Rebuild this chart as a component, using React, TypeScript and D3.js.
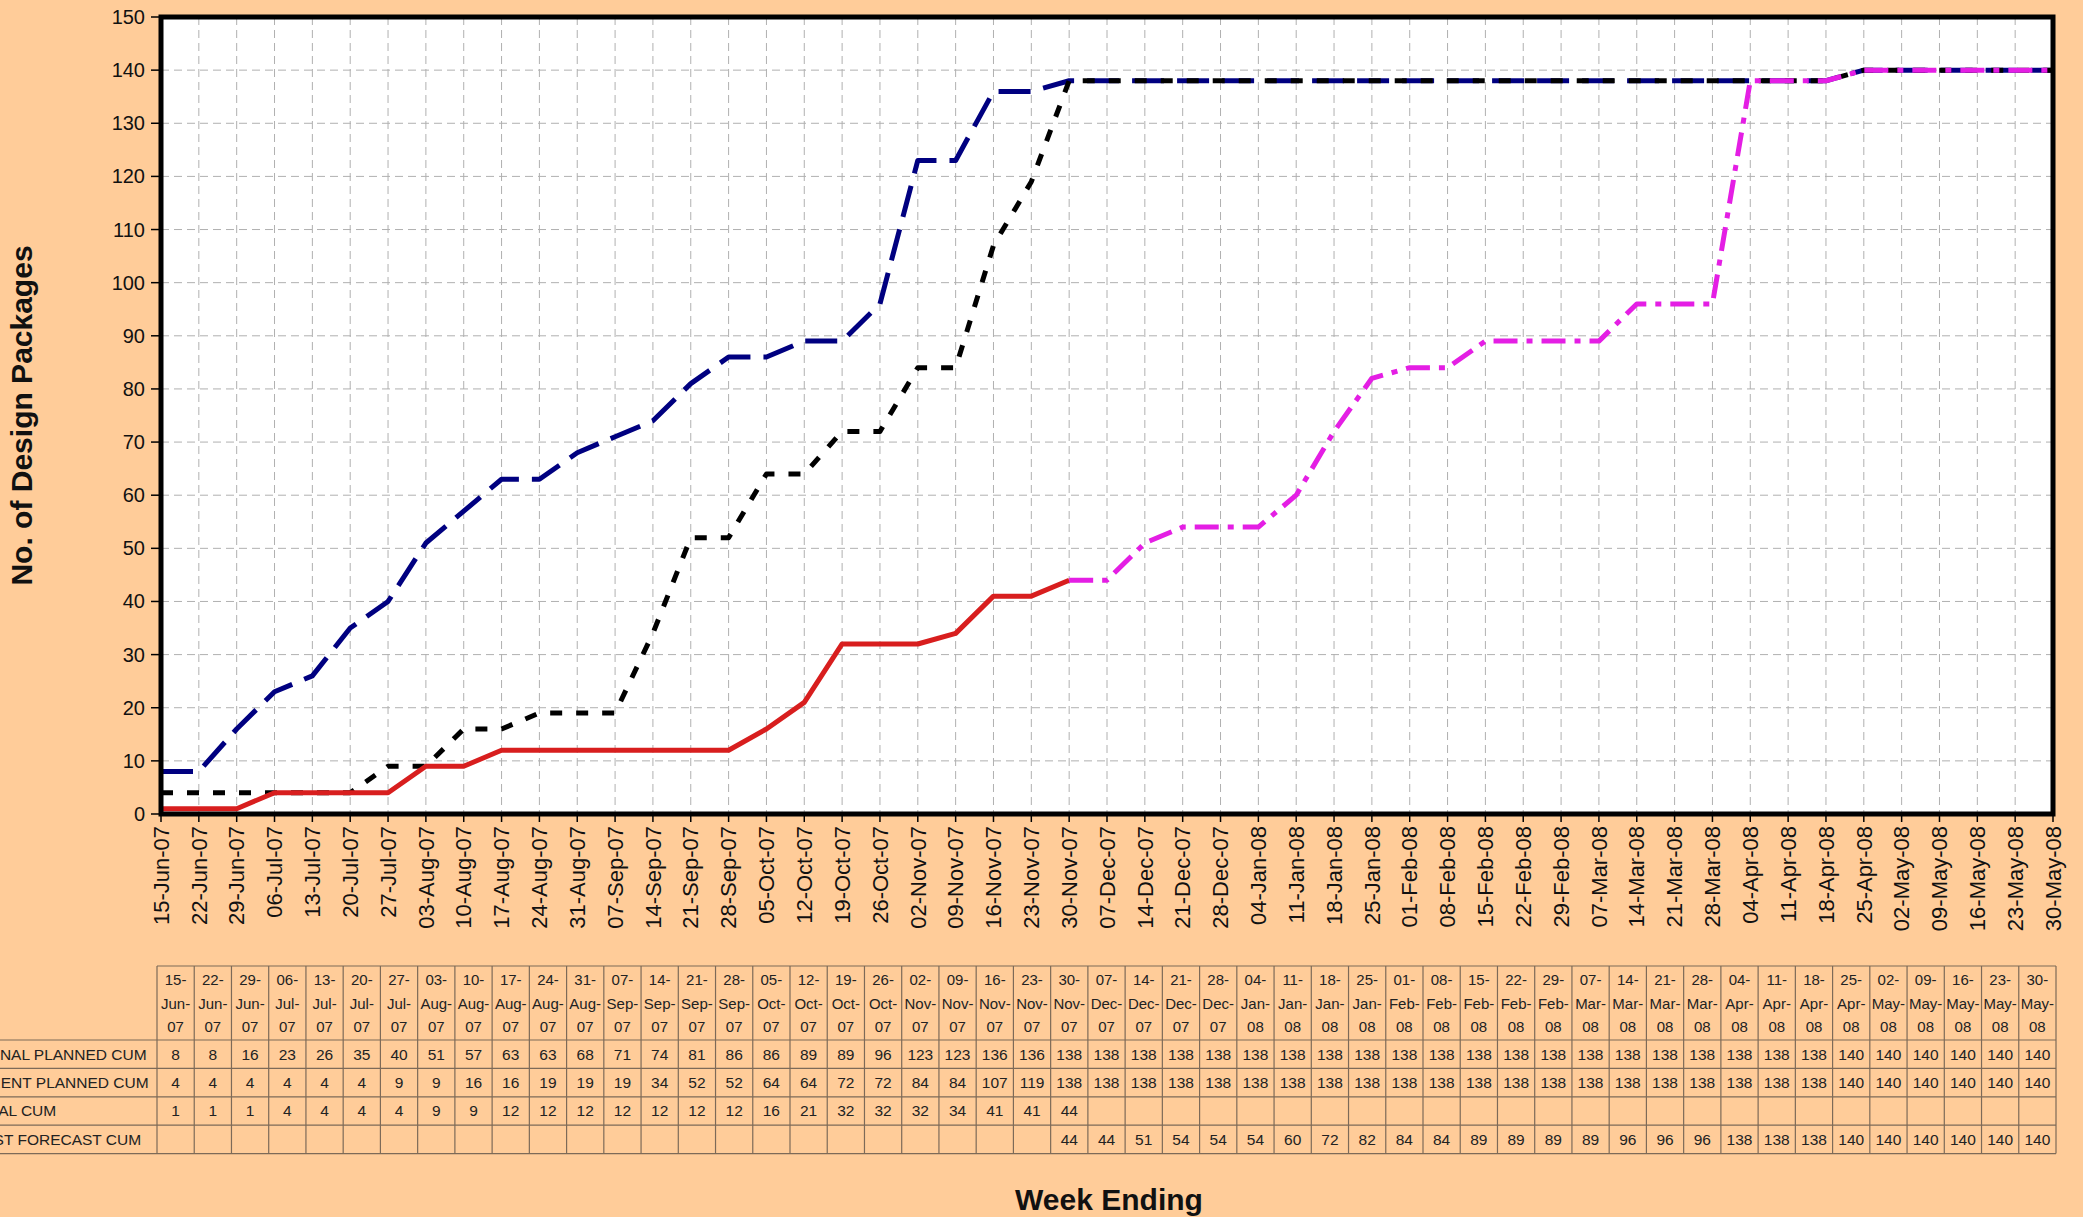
import { line, range, scaleBand, scaleLinear, scalePoint } from 'd3'

const weeks = [
	'15-Jun-07', '22-Jun-07', '29-Jun-07', '06-Jul-07', '13-Jul-07', '20-Jul-07', '27-Jul-07',
	'03-Aug-07', '10-Aug-07', '17-Aug-07', '24-Aug-07', '31-Aug-07', '07-Sep-07', '14-Sep-07',
	'21-Sep-07', '28-Sep-07', '05-Oct-07', '12-Oct-07', '19-Oct-07', '26-Oct-07', '02-Nov-07',
	'09-Nov-07', '16-Nov-07', '23-Nov-07', '30-Nov-07', '07-Dec-07', '14-Dec-07', '21-Dec-07',
	'28-Dec-07', '04-Jan-08', '11-Jan-08', '18-Jan-08', '25-Jan-08', '01-Feb-08', '08-Feb-08',
	'15-Feb-08', '22-Feb-08', '29-Feb-08', '07-Mar-08', '14-Mar-08', '21-Mar-08', '28-Mar-08',
	'04-Apr-08', '11-Apr-08', '18-Apr-08', '25-Apr-08', '02-May-08', '09-May-08', '16-May-08',
	'23-May-08', '30-May-08',
]

const originalPlanned = [
	8, 8, 16, 23, 26, 35, 40, 51, 57, 63, 63, 68, 71, 74, 81, 86, 86, 89, 89, 96, 123, 123, 136, 136,
	138, 138, 138, 138, 138, 138, 138, 138, 138, 138, 138, 138, 138, 138, 138, 138, 138, 138, 138,
	138, 138, 140, 140, 140, 140, 140, 140,
]

const currentPlanned = [
	4, 4, 4, 4, 4, 4, 9, 9, 16, 16, 19, 19, 19, 34, 52, 52, 64, 64, 72, 72, 84, 84, 107, 119,
	138, 138, 138, 138, 138, 138, 138, 138, 138, 138, 138, 138, 138, 138, 138, 138, 138, 138, 138,
	138, 138, 140, 140, 140, 140, 140, 140,
]

const actualCum: (number | null)[] = [
	1, 1, 1, 4, 4, 4, 4, 9, 9, 12, 12, 12, 12, 12, 12, 12, 16, 21, 32, 32, 32, 34, 41, 41, 44,
	null, null, null, null, null, null, null, null, null, null, null, null, null, null, null, null,
	null, null, null, null, null, null, null, null, null, null,
]

const forecastCum: (number | null)[] = [
	null, null, null, null, null, null, null, null, null, null, null, null, null, null, null, null,
	null, null, null, null, null, null, null, null,
	44, 44, 51, 54, 54, 54, 60, 72, 82, 84, 84, 89, 89, 89, 89, 96, 96, 96, 138, 138, 138, 140, 140,
	140, 140, 140, 140,
]

// the row titles run off the left edge of the page in the original
const rowLabels = ['ORIGINAL PLANNED CUM', 'CURRENT PLANNED CUM', 'ACTUAL CUM', 'LATEST FORECAST CUM']

const yTicks = range(0, 151, 10)

const font = '"Liberation Sans", Arial, sans-serif'

export default function App() {
	const width = 2083
	const height = 1217

	// plot box
	const left = 161
	const right = 2053
	const top = 17
	const bottom = 814

	// data table box
	const tableLeft = 157
	const tableRight = 2056
	const tableTop = 966
	const headerBottom = 1040
	const rowH = 28.4

	const x = scalePoint<string>().domain(weeks).range([left, right])
	const y = scaleLinear().domain([0, 150]).range([bottom, top])
	const col = scaleBand<string>().domain(weeks).range([tableLeft, tableRight])

	const series = [
		{ values: originalPlanned as (number | null)[], color: '#000080', width: 5, dash: '32,13' },
		{ values: currentPlanned as (number | null)[], color: '#000000', width: 5, dash: '12,14' },
		{ values: actualCum, color: '#d81e1e', width: 5, dash: undefined },
		{ values: forecastCum, color: '#e41ee4', width: 5, dash: '24,9,6,9' },
	]

	const path = (vals: (number | null)[]) =>
		line<number | null>()
			.defined((d) => d != null)
			.x((_, i) => x(weeks[i])!)
			.y((d) => y(d as number))(vals) ?? ''

	const tableRows = [originalPlanned, currentPlanned, actualCum, forecastCum]
	const rowLines = range(0, tableRows.length + 1).map((i) => headerBottom + i * rowH)

	return (
		<div style={{ position: 'absolute', left: 0, top: 0 }}>
			<svg width={width} height={height} style={{ display: 'block', fontFamily: font }}>
				<rect x={0} y={0} width={width} height={height} fill='#FFCC99' />

				{/* plot area */}
				<rect x={left} y={top} width={right - left} height={bottom - top} fill='#ffffff' />

				{/* grid */}
				{yTicks.slice(1, -1).map((t) => (
					<line
						key={'gy' + t}
						x1={left}
						x2={right}
						y1={y(t)}
						y2={y(t)}
						stroke='#b0b0b0'
						strokeWidth={1}
						strokeDasharray='8,5'
					/>
				))}
				{weeks.slice(1, -1).map((w) => (
					<line
						key={'gx' + w}
						x1={x(w)}
						x2={x(w)}
						y1={top}
						y2={bottom}
						stroke='#b0b0b0'
						strokeWidth={1}
						strokeDasharray='8,5'
					/>
				))}

				{/* series */}
				{series.map((s, i) => (
					<path
						key={i}
						d={path(s.values)}
						fill='none'
						stroke={s.color}
						strokeWidth={s.width}
						strokeDasharray={s.dash}
						strokeLinejoin='round'
					/>
				))}

				<rect
					x={left}
					y={top}
					width={right - left}
					height={bottom - top}
					fill='none'
					stroke='#000'
					strokeWidth={5}
				/>

				{/* y axis */}
				{yTicks.map((t) => (
					<g key={'yt' + t} transform={`translate(0,${y(t)})`}>
						<line x1={left - 10} x2={left} stroke='#000' strokeWidth={1.5} />
						<text x={145} dy='0.35em' textAnchor='end' fontSize={20} fill='#111'>
							{t}
						</text>
					</g>
				))}

				{/* x axis */}
				{weeks.map((w) => (
					<g key={'xt' + w} transform={`translate(${x(w)},${bottom})`}>
						<line y1={0} y2={8} stroke='#000' strokeWidth={1.5} />
						<text
							transform='translate(0,12) rotate(-90)'
							dy='0.35em'
							textAnchor='end'
							fontSize={22}
							fill='#111'
						>
							{w}
						</text>
					</g>
				))}

				<text
					transform={`translate(32,${(top + bottom) / 2}) rotate(-90)`}
					textAnchor='middle'
					fontSize={30}
					fontWeight='bold'
					fill='#111'
				>
					No. of Design Packages
				</text>

				{/* data table */}
				<g stroke='#7d6a58' strokeWidth={1.2}>
					<line x1={tableLeft} x2={tableRight} y1={tableTop} y2={tableTop} />
					{rowLines.map((ly, i) => (
						<line key={'rl' + i} x1={0} x2={tableRight} y1={ly} y2={ly} />
					))}
					{weeks.map((w) => (
						<line
							key={'cl' + w}
							x1={col(w)}
							x2={col(w)}
							y1={tableTop}
							y2={rowLines[rowLines.length - 1]}
						/>
					))}
					<line
						x1={tableRight}
						x2={tableRight}
						y1={tableTop}
						y2={rowLines[rowLines.length - 1]}
					/>
				</g>

				{weeks.map((w) => {
					const [d, m, yr] = w.split('-')
					const cx = col(w)! + col.bandwidth() / 2
					return (
						<text key={'h' + w} textAnchor='middle' fontSize={15} fill='#222'>
							<tspan x={cx} y={985}>{d}-</tspan>
							<tspan x={cx} y={1009}>{m}-</tspan>
							<tspan x={cx} y={1032}>{yr}</tspan>
						</text>
					)
				})}

				{tableRows.map((vals, r) => (
					<g key={'row' + r}>
						<text x={-44} y={headerBottom + r * rowH + rowH / 2} dy='0.35em' fontSize={15.5} fill='#222'>
							{rowLabels[r]}
						</text>
						{vals.map((v, i) =>
							v == null ? null : (
								<text
									key={i}
									x={col(weeks[i])! + col.bandwidth() / 2}
									y={headerBottom + r * rowH + rowH / 2}
									dy='0.35em'
									textAnchor='middle'
									fontSize={15.5}
									fill='#222'
								>
									{v}
								</text>
							),
						)}
					</g>
				))}

				<text x={1109} y={1210} textAnchor='middle' fontSize={30} fontWeight='bold' fill='#111'>
					Week Ending
				</text>
			</svg>
		</div>
	)
}
